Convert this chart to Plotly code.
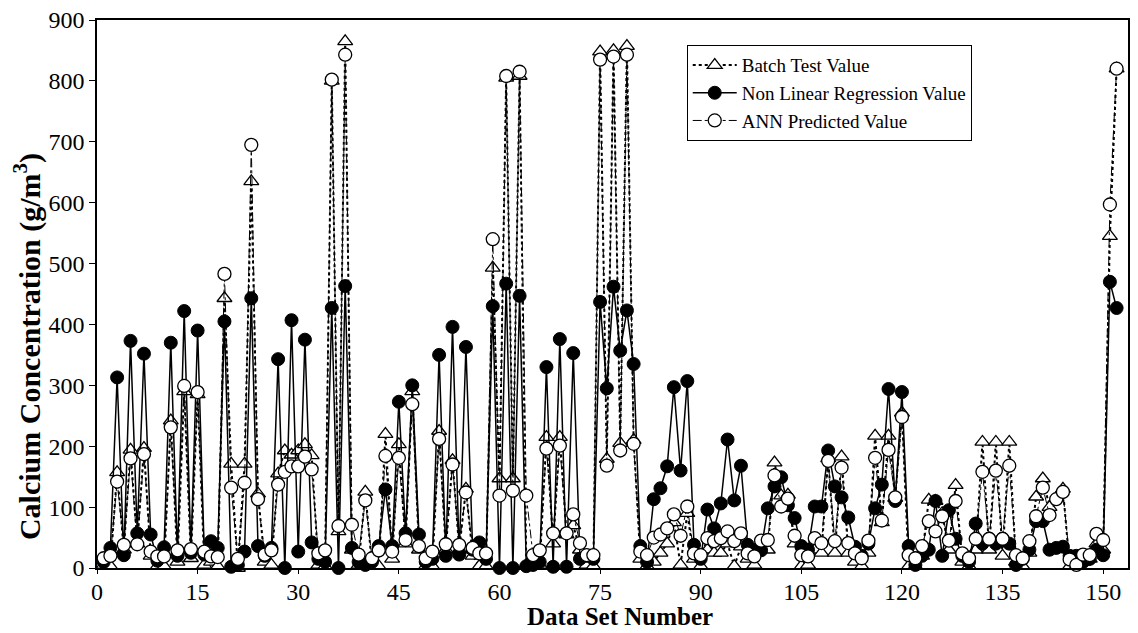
import plotly.graph_objects as go

data_set = list(range(1, 153))

batch_test = [
    5, 3, 157, 30, 194, 40, 197, 20, 3, 3,
    242, 10, 290, 16, 285, 5, 10, 3, 443, 171,
    0, 171, 635, 122, 10, 5, 155, 193, 186, 193,
    203, 185, 5, 3, 800, 60, 865, 30, 5, 125,
    3, 3, 220, 15, 203, 40, 290, 30, 3, 3,
    225, 30, 177, 30, 130, 20, 3, 3, 493, 147,
    805, 147, 808, 5, 3, 5, 215, 40, 215, 55,
    70, 30, 5, 3, 848, 179, 850, 205, 857, 210,
    15, 3, 10, 25, 40, 75, 5, 90, 15, 3,
    30, 25, 25, 40, 3, 35, 15, 5, 35, 30,
    173, 119, 120, 40, 3, 5, 30, 25, 180, 25,
    183, 25, 10, 3, 25, 217, 75, 217, 115, 255,
    3, 3, 20, 112, 110, 90, 30, 136, 10, 3,
    30, 207, 30, 207, 20, 207, 10, 3, 25, 117,
    147, 100, 115, 130, 3, 3, 10, 15, 40, 30,
    545, 820,
]

nonlinear_reg = [
    10, 33, 313, 21, 373, 57, 352, 55, 12, 34,
    370, 20, 422, 25, 390, 22, 44, 33, 405, 2,
    5, 27, 443, 36, 20, 33, 343, 0, 407, 27,
    375, 42, 15, 10, 427, 0, 463, 33, 10, 5,
    10, 36, 129, 36, 273, 57, 300, 55, 10, 15,
    350, 20, 396, 22, 363, 30, 42, 15, 430, 0,
    467, 0, 447, 3, 5, 10, 330, 2, 376, 2,
    353, 15, 20, 15, 437, 295, 462, 357, 423, 335,
    36, 10, 113, 131, 167, 297, 160, 307, 38, 15,
    96, 65, 106, 211, 111, 168, 38, 30, 29, 98,
    134, 149, 103, 82, 36, 30, 101, 101, 193, 134,
    116, 83, 35, 20, 40, 98, 137, 294, 110, 289,
    36, 5, 20, 30, 110, 20, 95, 48, 20, 10,
    73, 40, 48, 40, 48, 40, 5, 15, 30, 77,
    77, 30, 33, 35, 20, 20, 10, 15, 30, 21,
    470, 427,
]

ann_pred = [
    16, 20, 142, 38, 180, 39, 187, 27, 19, 19,
    231, 29, 299, 31, 289, 27, 19, 18, 483, 132,
    15, 140, 695, 113, 22, 29, 137, 158, 167, 167,
    183, 162, 24, 29, 802, 69, 843, 71, 22, 111,
    16, 29, 184, 27, 181, 46, 269, 36, 16, 27,
    212, 39, 170, 38, 124, 33, 24, 24, 540, 119,
    808, 127, 815, 119, 21, 29, 196, 57, 201, 57,
    88, 41, 21, 21, 835, 168, 840, 193, 843, 204,
    27, 21, 50, 55, 65, 88, 53, 101, 24, 21,
    49, 44, 49, 60, 44, 57, 24, 19, 45, 46,
    152, 101, 114, 53, 21, 19, 49, 41, 176, 44,
    165, 41, 24, 16, 45, 181, 78, 194, 116, 248,
    21, 16, 36, 77, 60, 85, 45, 110, 24, 16,
    48, 158, 48, 160, 48, 168, 21, 16, 44, 85,
    132, 87, 113, 125, 14, 5, 22, 21, 56, 46,
    597, 820,
]

x_ticks = [0, 15, 30, 45, 60, 75, 90, 105, 120, 135, 150]

x_title = "<b>Data Set Number</b>"
y_title = "<b>Calcium Concentration (g/m<sup>3</sup>)</b>"

FONT = "Liberation Serif"

fig = go.Figure()

fig.add_trace(go.Scatter(
    x=data_set, y=batch_test, name="Batch Test Value",
    mode="lines+markers",
    line=dict(color="black", width=2, dash="dot"),
    marker=dict(symbol="triangle-up", size=13, color="white",
                line=dict(color="black", width=1.3)),
    cliponaxis=False,
))
fig.add_trace(go.Scatter(
    x=data_set, y=nonlinear_reg, name="Non Linear Regression Value",
    mode="lines+markers",
    line=dict(color="black", width=1.5),
    marker=dict(symbol="circle", size=13, color="black",
                line=dict(color="black", width=1)),
    cliponaxis=False,
))
fig.add_trace(go.Scatter(
    x=data_set, y=ann_pred, name="ANN Predicted Value",
    mode="lines+markers",
    line=dict(color="black", width=1, dash="dashdot"),
    marker=dict(symbol="circle", size=13, color="white",
                line=dict(color="black", width=1.3)),
    cliponaxis=False,
))

fig.add_annotation(
    text=y_title, textangle=-90, showarrow=False,
    xref="paper", yref="paper", x=-0.0679, y=0.405,
    xanchor="center", yanchor="middle",
    font=dict(family=FONT, size=30, color="black"),
)
fig.add_annotation(
    text=x_title, showarrow=False,
    xref="paper", yref="paper", x=0.507, y=-0.0894,
    xanchor="center", yanchor="middle",
    font=dict(family=FONT, size=25, color="black"),
)

fig.update_layout(
    width=1130, height=625,
    margin=dict(l=89, r=10, t=12, b=65, autoexpand=False),
    paper_bgcolor="white", plot_bgcolor="white",
    font=dict(family=FONT, color="black", size=24),
    showlegend=True,
    legend=dict(
        x=0.572, y=0.954, xanchor="left", yanchor="top",
        bgcolor="white", bordercolor="black", borderwidth=1,
        font=dict(family=FONT, size=19, color="black"),
        itemwidth=44, tracegroupgap=0,
    ),
    xaxis=dict(
        range=[0, 153.7], tickmode="array", tickvals=x_ticks,
        ticks="outside", ticklen=4, tickcolor="black",
        ticklabelstandoff=-3, ticklabeloverflow="allow",
        showline=True, linecolor="black", linewidth=1.5, mirror=True,
        showgrid=False, zeroline=False,
        tickfont=dict(family=FONT, size=24),
    ),
    yaxis=dict(
        range=[0, 900], dtick=100,
        ticks="outside", ticklen=6, tickcolor="black",
        ticklabeloverflow="allow",
        showline=True, linecolor="black", linewidth=1.5, mirror=True,
        showgrid=False, zeroline=False,
        tickfont=dict(family=FONT, size=24),
    ),
)

fig.write_html("out.html")
